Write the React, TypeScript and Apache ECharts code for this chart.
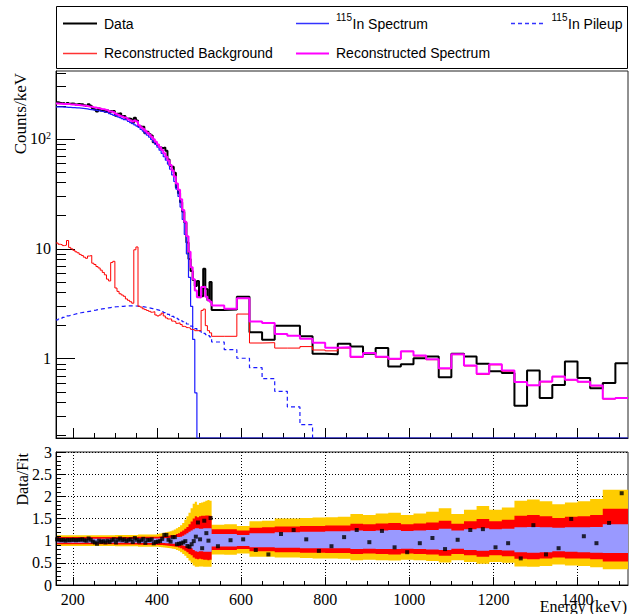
import React, { useEffect, useRef } from "react";
import * as echarts from "echarts";

// ---------- binning (keV) ----------
const binEdges = [
  160, 165, 170, 175, 180, 185, 190, 195, 200, 205, 210, 215, 220, 225, 230, 235, 240, 245, 250, 255,
  260, 265, 270, 275, 280, 285, 290, 295, 300, 305, 310, 315, 320, 325, 330, 335, 340, 345, 350, 355,
  360, 365, 370, 375, 380, 385, 390, 395, 400, 405, 410, 415, 420, 425, 430, 435, 440, 445, 450, 455,
  460, 465, 470, 475, 480, 485, 490, 495, 500, 505, 510, 515, 520, 525, 530,
  560, 590, 620, 650, 680, 710, 740, 770, 800, 830, 860, 890, 920, 950, 980, 1010, 1040, 1070, 1100,
  1130, 1160, 1190, 1220, 1250, 1280, 1310, 1340, 1370, 1400, 1430, 1460, 1490, 1520,
];

// ---------- top panel: counts/keV per bin ----------
const dataCounts = [
  216, 213.5, 211.3, 212.3, 208.2, 212.6, 208.9, 209.6, 209.3, 206,
  207.9, 206.6, 207.3, 202.1, 198.9, 207.2, 200.3, 190.3, 185.3, 177.4,
  189.5, 181.6, 184.1, 176.4, 181.2, 172.7, 179.2, 179.9, 162.6, 169.4,
  171, 161.4, 161.4, 153, 153.4, 151.7, 139.9, 155.6, 147.3, 130.3,
  129.2, 128.8, 112.8, 116, 110.7, 107.6, 93.5, 91.5, 87.4, 83.4,
  82.5, 83.7, 77.9, 65.1, 56.6, 55.7, 49.2, 36.2, 32, 26.6,
  21.7, 17.4, 11.4, 8.1, 6.3, 5.2, 4.6, 5.1, 3.7, 3.7,
  6.6, 4.3, 3.4, 5.0,
  2.77, 2.8, 3.66, 1.74, 1.49, 2.0, 2.0, 1.6, 1.11, 1.10,
  1.37, 1.29, 1.11, 1.25, 0.85, 0.89, 1.01, 1.05, 0.68, 1.11,
  1.05, 0.90, 0.77, 0.74, 0.374, 0.78, 0.44, 0.576, 0.945, 0.667,
  0.54, 0.60, 0.91,
];

const reconSpectrum = [
  209.6, 209.3, 209.2, 208.1, 208.2, 208.4, 206.8, 205.5, 205.2, 204.0,
  203.8, 202.5, 201.3, 200.1, 198.9, 197.3, 196.4, 194.2, 193.0, 190.7,
  189.5, 187.2, 186.0, 183.7, 181.2, 178.0, 177.4, 174.7, 169.4, 166.1,
  162.9, 159.8, 156.7, 154.5, 150.4, 147.3, 144.2, 146.8, 144.4, 133.0,
  127.9, 123.8, 118.7, 113.7, 109.6, 104.5, 99.5, 94.3, 89.2, 84.2,
  79.3, 74.1, 68.9, 63.8, 57.8, 51.6, 45.6, 39.4, 34.4, 28.3,
  22.6, 17.6, 13.0, 9.4, 6.8, 5.3, 4.17, 3.63, 3.6, 4.5,
  4.53, 3.66, 3.42, 3.3,
  3.05, 2.85, 3.56, 2.18, 2.11, 1.68, 1.62, 1.52, 1.40, 1.26,
  1.27, 1.04, 1.13, 1.04, 1.0, 1.17, 1.07, 0.99, 0.82, 1.10,
  0.87, 0.73, 0.89, 0.78, 0.614, 0.573, 0.62, 0.69, 0.645, 0.618,
  0.57, 0.433, 0.44,
];

const in115Spectrum = [
  196, 196, 196, 195, 195, 194, 194, 193, 193, 192,
  192, 191, 190, 189, 188, 186, 185, 184, 183, 181,
  180, 178, 177, 175, 173, 170, 167, 164, 162, 159,
  156, 153, 150, 148, 144, 141, 138, 134, 131, 127,
  122, 118, 113, 108, 104, 99, 94, 89, 84, 79,
  74, 69, 64, 59, 53, 47, 41, 35, 30, 24,
  18.5, 13.5, 9.0, 5.5, 3.0, 1.5, 0.49, 0, 0, 0,
  0, 0, 0, 0,
  0, 0, 0, 0, 0, 0, 0, 0, 0, 0,
  0, 0, 0, 0, 0, 0, 0, 0, 0, 0,
  0, 0, 0, 0, 0, 0, 0, 0, 0, 0,
  0, 0, 0,
];

const reconBackground = [
  11.3, 11.0, 10.9, 10.7, 10.8, 11.9, 10.3, 10.0, 9.7, 9.4,
  9.2, 8.9, 8.7, 8.4, 8.2, 8.6, 8.7, 7.4, 7.2, 6.9,
  6.7, 6.4, 6.1, 5.8, 5.3, 5.1, 7.5, 7.7, 4.4, 4.1,
  3.9, 3.8, 3.7, 3.5, 3.4, 3.3, 3.2, 9.8, 10.4, 3.0,
  2.95, 2.85, 2.8, 2.75, 2.7, 2.65, 2.68, 2.5, 2.45, 2.5,
  2.6, 2.45, 2.35, 2.3, 2.3, 2.2, 2.18, 2.1, 2.12, 2.05,
  1.97, 1.95, 1.92, 1.9, 1.85, 1.83, 1.8, 1.8, 1.8, 2.75,
  2.83, 2.0, 1.8, 1.72,
  1.6, 1.6, 2.55, 1.39, 1.40, 1.25, 1.25, 1.29, 1.20, 1.18,
  1.25, 1.03, 1.12, 1.03, 0.99, 1.16, 1.06, 0.98, 0.81, 1.09,
  0.86, 0.72, 0.88, 0.77, 0.61, 0.57, 0.615, 0.685, 0.64, 0.615,
  0.567, 0.43, 0.437,
];

const in115Pileup = [
  2.26, 2.30, 2.34, 2.38, 2.41, 2.45, 2.48, 2.51, 2.54, 2.57,
  2.60, 2.62, 2.64, 2.66, 2.68, 2.70, 2.72, 2.75, 2.77, 2.80,
  2.82, 2.84, 2.86, 2.88, 2.90, 2.92, 2.94, 2.96, 2.97, 2.98,
  2.99, 3.00, 3.01, 3.02, 3.03, 3.03, 3.03, 3.02, 3.01, 3.00,
  2.98, 2.96, 2.94, 2.92, 2.89, 2.86, 2.83, 2.80, 2.77, 2.73,
  2.68, 2.63, 2.58, 2.53, 2.48, 2.43, 2.38, 2.33, 2.27, 2.22,
  2.17, 2.12, 2.07, 2.03, 1.98, 1.93, 1.88, 1.83, 1.79, 1.74,
  1.70, 1.66, 1.62, 1.58,
  1.42, 1.21, 1.01, 0.83, 0.658, 0.505, 0.364, 0.251, 0.16, 0.09,
];

// ---------- bottom panel: Data/Fit ----------
const ratioValues = [
  1.03, 1.02, 1.01, 1.02, 1.00, 1.02, 1.01, 1.02, 1.02, 1.01,
  1.02, 1.02, 1.03, 1.01, 1.00, 1.05, 1.02, 0.98, 0.96, 0.93,
  1.00, 0.97, 0.99, 0.96, 1.00, 0.97, 1.01, 1.03, 0.96, 1.02,
  1.05, 1.01, 1.03, 0.99, 1.02, 1.03, 0.97, 1.06, 1.02, 0.98,
  1.01, 1.04, 0.95, 1.02, 1.01, 1.03, 0.94, 0.97, 0.98, 0.99,
  1.04, 1.13, 1.13, 1.02, 0.98, 1.08, 1.08, 0.92, 0.93, 0.94,
  0.96, 0.99, 0.88, 0.86, 0.92, 0.99, 1.09, 1.41, 1.03, 0.83,
  1.45, 1.17, 1.00, 1.51,
  0.875, 1.01, 1.03, 0.79, 0.69, 1.15, 1.24, 1.03, 0.77, 0.875,
  1.08, 1.24, 0.966, 1.22, 0.85, 0.74, 0.943, 1.06, 0.81, 1.02,
  1.24, 1.26, 0.85, 0.943, 0.60, 1.35, 0.69, 0.83, 1.49, 1.10,
  0.943, 1.40, 2.07,
];

const bandBlueHi = [
  1.045, 1.045, 1.045, 1.045, 1.045, 1.045, 1.045, 1.045, 1.045, 1.045,
  1.045, 1.045, 1.045, 1.045, 1.045, 1.045, 1.045, 1.045, 1.045, 1.045,
  1.045, 1.045, 1.045, 1.045, 1.045, 1.045, 1.045, 1.045, 1.045, 1.045,
  1.045, 1.045, 1.045, 1.045, 1.045, 1.045, 1.045, 1.045, 1.045, 1.05,
  1.05, 1.05, 1.05, 1.05, 1.05, 1.05, 1.05, 1.05, 1.05, 1.05,
  1.055, 1.055, 1.06, 1.06, 1.065, 1.07, 1.07, 1.08, 1.085, 1.09,
  1.11, 1.14, 1.17, 1.20, 1.23, 1.26, 1.28, 1.28, 1.27, 1.27,
  1.28, 1.28, 1.28, 1.28,
  1.15, 1.15, 1.13, 1.17, 1.17, 1.19, 1.19, 1.20, 1.20, 1.21,
  1.21, 1.23, 1.22, 1.23, 1.24, 1.22, 1.23, 1.24, 1.27, 1.23,
  1.26, 1.28, 1.26, 1.27, 1.30, 1.31, 1.30, 1.29, 1.30, 1.30,
  1.31, 1.37, 1.37,
];
const bandBlueLo = [
  0.955, 0.955, 0.955, 0.955, 0.955, 0.955, 0.955, 0.955, 0.955, 0.955,
  0.955, 0.955, 0.955, 0.955, 0.955, 0.955, 0.955, 0.955, 0.955, 0.955,
  0.955, 0.955, 0.955, 0.955, 0.955, 0.955, 0.955, 0.955, 0.955, 0.955,
  0.955, 0.955, 0.955, 0.955, 0.955, 0.955, 0.955, 0.955, 0.955, 0.95,
  0.95, 0.95, 0.95, 0.95, 0.95, 0.95, 0.95, 0.95, 0.95, 0.95,
  0.945, 0.945, 0.94, 0.94, 0.935, 0.93, 0.93, 0.92, 0.91, 0.90,
  0.89, 0.88, 0.87, 0.85, 0.83, 0.79, 0.76, 0.75, 0.76, 0.76,
  0.75, 0.75, 0.75, 0.75,
  0.87, 0.87, 0.88, 0.85, 0.85, 0.84, 0.84, 0.83, 0.83, 0.83,
  0.83, 0.81, 0.82, 0.81, 0.81, 0.82, 0.81, 0.80, 0.79, 0.82,
  0.79, 0.77, 0.79, 0.78, 0.74, 0.73, 0.74, 0.76, 0.75, 0.74,
  0.73, 0.72, 0.72,
];
const bandRedHi = [
  1.08, 1.08, 1.08, 1.08, 1.08, 1.08, 1.08, 1.08, 1.08, 1.08,
  1.08, 1.08, 1.08, 1.08, 1.08, 1.08, 1.08, 1.08, 1.08, 1.08,
  1.08, 1.08, 1.08, 1.08, 1.08, 1.08, 1.08, 1.08, 1.085, 1.085,
  1.085, 1.085, 1.085, 1.085, 1.085, 1.085, 1.085, 1.085, 1.085, 1.09,
  1.09, 1.09, 1.09, 1.09, 1.09, 1.09, 1.09, 1.09, 1.09, 1.095,
  1.10, 1.10, 1.105, 1.11, 1.12, 1.125, 1.13, 1.15, 1.17, 1.20,
  1.23, 1.27, 1.31, 1.37, 1.43, 1.50, 1.55, 1.53, 1.55, 1.56,
  1.56, 1.57, 1.57, 1.56,
  1.26, 1.26, 1.23, 1.29, 1.30, 1.32, 1.32, 1.33, 1.33, 1.34,
  1.34, 1.38, 1.37, 1.39, 1.40, 1.37, 1.39, 1.41, 1.45, 1.38,
  1.44, 1.49, 1.44, 1.47, 1.56, 1.58, 1.55, 1.51, 1.54, 1.55,
  1.58, 1.72, 1.72,
];
const bandRedLo = [
  0.92, 0.92, 0.92, 0.92, 0.92, 0.92, 0.92, 0.92, 0.92, 0.92,
  0.92, 0.92, 0.92, 0.92, 0.92, 0.92, 0.92, 0.92, 0.92, 0.92,
  0.92, 0.92, 0.92, 0.92, 0.92, 0.92, 0.92, 0.92, 0.915, 0.915,
  0.915, 0.915, 0.915, 0.915, 0.915, 0.915, 0.915, 0.915, 0.915, 0.91,
  0.91, 0.91, 0.91, 0.91, 0.91, 0.91, 0.91, 0.91, 0.905, 0.90,
  0.90, 0.895, 0.89, 0.885, 0.88, 0.875, 0.87, 0.86, 0.845, 0.83,
  0.80, 0.77, 0.74, 0.70, 0.67, 0.62, 0.59, 0.58, 0.59, 0.58,
  0.57, 0.57, 0.56, 0.57,
  0.79, 0.79, 0.81, 0.76, 0.76, 0.74, 0.74, 0.73, 0.73, 0.72,
  0.72, 0.70, 0.71, 0.70, 0.69, 0.71, 0.70, 0.69, 0.66, 0.70,
  0.67, 0.64, 0.67, 0.65, 0.59, 0.58, 0.60, 0.62, 0.60, 0.60,
  0.58, 0.53, 0.53,
];
const bandYellowHi = [
  1.12, 1.12, 1.12, 1.12, 1.12, 1.12, 1.12, 1.12, 1.12, 1.12,
  1.12, 1.12, 1.12, 1.12, 1.12, 1.12, 1.12, 1.12, 1.12, 1.12,
  1.12, 1.12, 1.12, 1.12, 1.12, 1.12, 1.12, 1.12, 1.13, 1.13,
  1.13, 1.13, 1.13, 1.13, 1.13, 1.13, 1.13, 1.13, 1.13, 1.14,
  1.14, 1.14, 1.14, 1.14, 1.14, 1.14, 1.14, 1.14, 1.15, 1.16,
  1.17, 1.18, 1.19, 1.20, 1.21, 1.23, 1.25, 1.28, 1.31, 1.35,
  1.40, 1.47, 1.55, 1.63, 1.73, 1.83, 1.88, 1.81, 1.85, 1.86,
  1.88, 1.90, 1.92, 1.90,
  1.36, 1.37, 1.33, 1.44, 1.45, 1.50, 1.50, 1.51, 1.52, 1.53,
  1.54, 1.60, 1.58, 1.61, 1.63, 1.58, 1.61, 1.65, 1.73, 1.60,
  1.70, 1.78, 1.70, 1.75, 1.90, 1.93, 1.89, 1.82, 1.86, 1.89,
  1.94, 2.15, 2.15,
];
const bandYellowLo = [
  0.88, 0.88, 0.88, 0.88, 0.88, 0.88, 0.88, 0.88, 0.88, 0.88,
  0.88, 0.88, 0.88, 0.88, 0.88, 0.88, 0.88, 0.88, 0.88, 0.88,
  0.88, 0.88, 0.88, 0.88, 0.88, 0.88, 0.88, 0.88, 0.875, 0.875,
  0.875, 0.875, 0.875, 0.875, 0.875, 0.875, 0.875, 0.875, 0.875, 0.865,
  0.865, 0.865, 0.865, 0.865, 0.865, 0.865, 0.865, 0.865, 0.86, 0.855,
  0.85, 0.845, 0.84, 0.835, 0.83, 0.82, 0.81, 0.79, 0.77, 0.74,
  0.70, 0.66, 0.61, 0.55, 0.50, 0.44, 0.41, 0.41, 0.42, 0.42,
  0.41, 0.41, 0.41, 0.41,
  0.69, 0.68, 0.71, 0.64, 0.64, 0.62, 0.62, 0.61, 0.60, 0.60,
  0.59, 0.56, 0.57, 0.56, 0.55, 0.57, 0.56, 0.54, 0.51, 0.56,
  0.52, 0.48, 0.52, 0.50, 0.42, 0.41, 0.43, 0.46, 0.44, 0.43,
  0.40, 0.355, 0.355,
];

// ---------- axes ----------
const xMajorTicks = [200, 400, 600, 800, 1000, 1200, 1400];
const xMinorTicks = [
  200, 250, 300, 350, 400, 450, 500, 550, 600, 650, 700, 750, 800, 850,
  900, 950, 1000, 1050, 1100, 1150, 1200, 1250, 1300, 1350, 1400, 1450, 1500,
];
const yMajorTicks = [1, 10, 100];
const yMinorTicks = [
  0.2, 0.3, 0.4, 0.5, 0.6, 0.7, 0.8, 0.9, 2, 3, 4, 5, 6, 7, 8, 9,
  20, 30, 40, 50, 60, 70, 80, 90, 200, 300, 400,
];
const X_MIN = 160;
const X_MAX = 1520;
const Y_MIN = 0.19;
const Y_MAX = 415;

const serif = '"Liberation Serif", "Times New Roman", serif';
const sans = '"Liberation Sans", Arial, sans-serif';

function histPoints(values: number[], floor = 0): number[][] {
  const pts: number[][] = [];
  for (let i = 0; i < values.length; i++) {
    const v = Math.max(values[i], floor);
    pts.push([binEdges[i], v], [binEdges[i + 1], v]);
  }
  return pts;
}

function bandSeries(hi: number[], lo: number[], color: string) {
  return {
    type: "custom",
    xAxisIndex: 2,
    yAxisIndex: 2,
    silent: true,
    data: [[800, 1]],
    renderItem: (_params: any, api: any) => {
      const pts: number[][] = [];
      for (let i = 0; i < hi.length; i++) {
        pts.push(api.coord([binEdges[i], hi[i]]), api.coord([binEdges[i + 1], hi[i]]));
      }
      for (let i = lo.length - 1; i >= 0; i--) {
        pts.push(api.coord([binEdges[i + 1], lo[i]]), api.coord([binEdges[i], lo[i]]));
      }
      return { type: "polygon", shape: { points: pts }, style: { fill: color, stroke: null } };
    },
  };
}

function histSeries(values: number[], color: string, width: number, dashed = false, floor = 0) {
  return {
    type: "line",
    xAxisIndex: 0,
    yAxisIndex: 0,
    data: histPoints(values, floor),
    showSymbol: false,
    symbol: "none",
    silent: true,
    clip: true,
    lineStyle: { color, width, type: dashed ? [4, 3] : "solid" },
  };
}

const black = { color: "#000", width: 1 };

function buildOption() {
  const centers = ratioValues.map((r, i) => [(binEdges[i] + binEdges[i + 1]) / 2, r]);
  return {
    animation: false,
    backgroundColor: "#fff",
    grid: [
      { left: 56, top: 71, width: 572, height: 367, show: true, borderColor: "#222", borderWidth: 1 },
      { left: 56, top: 452, width: 572, height: 133, show: true, borderColor: "#222", borderWidth: 1 },
    ],
    xAxis: [
      {
        gridIndex: 0, type: "value", min: X_MIN, max: X_MAX, position: "bottom",
        axisLine: { show: true, onZero: false, lineStyle: black },
        axisTick: { show: true, inside: true, length: 10, customValues: xMajorTicks, lineStyle: black },
        axisLabel: { show: false }, splitLine: { show: false },
      },
      {
        gridIndex: 0, type: "value", min: X_MIN, max: X_MAX, position: "bottom",
        axisLine: { show: false, onZero: false },
        axisTick: { show: true, inside: true, length: 5, customValues: xMinorTicks, lineStyle: black },
        axisLabel: { show: false }, splitLine: { show: false },
      },
      {
        gridIndex: 1, type: "value", min: X_MIN, max: X_MAX, position: "bottom",
        axisLine: { show: false, onZero: false },
        axisTick: { show: false, customValues: xMajorTicks },
        axisLabel: {
          show: true, customValues: xMajorTicks, fontFamily: serif, fontSize: 16, color: "#000", margin: 6,
          formatter: (v: number) => String(v),
        },
        splitLine: { show: true, lineStyle: { color: "#000", width: 1, type: [1, 2] } },
      },
      {
        gridIndex: 1, type: "value", min: X_MIN, max: X_MAX, position: "bottom", z: 5,
        axisLine: { show: true, onZero: false, lineStyle: black },
        axisTick: { show: true, inside: true, length: 8, customValues: xMajorTicks, lineStyle: black },
        axisLabel: { show: false }, splitLine: { show: false },
      },
      {
        gridIndex: 1, type: "value", min: X_MIN, max: X_MAX, position: "bottom", z: 5,
        axisLine: { show: false, onZero: false },
        axisTick: { show: true, inside: true, length: 4, customValues: xMinorTicks, lineStyle: black },
        axisLabel: { show: false }, splitLine: { show: false },
      },
    ],
    yAxis: [
      {
        gridIndex: 0, type: "log", logBase: 10, min: Y_MIN, max: Y_MAX, position: "left",
        axisLine: { show: true, onZero: false, lineStyle: black },
        axisTick: { show: true, inside: true, length: 19, customValues: yMajorTicks, lineStyle: black },
        axisLabel: {
          show: true, customValues: yMajorTicks, margin: 5,
          formatter: (v: number) => (v >= 100 ? "{m|10}{s|2}" : v >= 10 ? "{m|10}" : "{m|1}"),
          rich: {
            m: { fontFamily: serif, fontSize: 16, color: "#000", verticalAlign: "bottom" },
            s: { fontFamily: serif, fontSize: 10, color: "#000", verticalAlign: "top" },
          },
        },
        splitLine: { show: false }, minorSplitLine: { show: false },
      },
      {
        gridIndex: 0, type: "log", logBase: 10, min: Y_MIN, max: Y_MAX, position: "left",
        axisLine: { show: false, onZero: false },
        axisTick: { show: true, inside: true, length: 10, customValues: yMinorTicks, lineStyle: black },
        axisLabel: { show: false }, splitLine: { show: false },
      },
      {
        gridIndex: 1, type: "value", min: 0, max: 3, interval: 0.5, position: "left",
        axisLine: { show: false, onZero: false },
        axisTick: { show: false },
        axisLabel: { show: true, fontFamily: serif, fontSize: 16, color: "#000", margin: 4 },
        splitLine: { show: true, lineStyle: { color: "#000", width: 1, type: [1, 2] } },
      },
      {
        gridIndex: 1, type: "value", min: 0, max: 3, interval: 0.5, position: "left", z: 5,
        axisLine: { show: true, onZero: false, lineStyle: black },
        axisTick: { show: true, inside: true, length: 10, lineStyle: black },
        minorTick: { show: true, splitNumber: 5, length: 5, lineStyle: black },
        axisLabel: { show: false }, splitLine: { show: false },
      },
    ],
    series: [
      histSeries(dataCounts, "#000000", 2),
      histSeries(in115Spectrum, "#1a1aff", 1.2, false, Y_MIN),
      histSeries(in115Pileup, "#1a1aff", 1.2, true),
      histSeries(reconBackground, "#ff0000", 1),
      histSeries(reconSpectrum, "#ff00ff", 2),
      bandSeries(bandYellowHi, bandYellowLo, "#ffcc00"),
      bandSeries(bandRedHi, bandRedLo, "#ff0000"),
      bandSeries(bandBlueHi, bandBlueLo, "#9999ff"),
      {
        type: "scatter", xAxisIndex: 2, yAxisIndex: 2, data: centers, silent: true,
        symbol: "rect", symbolSize: 4, itemStyle: { color: "#000" }, z: 6,
      },
    ],
    graphic: [
      { type: "rect", shape: { x: 56.5, y: 6.5, width: 571, height: 62 }, style: { fill: "#fff", stroke: "#000", lineWidth: 1 } },
      { type: "line", shape: { x1: 63, y1: 23.5, x2: 97, y2: 23.5 }, style: { stroke: "#000", lineWidth: 2 } },
      { type: "text", x: 104, y: 24, style: { text: "Data", fontSize: 14, fontFamily: sans, fill: "#000", align: "left", verticalAlign: "middle" } },
      { type: "line", shape: { x1: 296, y1: 23.5, x2: 329, y2: 23.5 }, style: { stroke: "#3333ff", lineWidth: 1.5 } },
      { type: "text", x: 336, y: 17, style: { text: "115", fontSize: 10, fontFamily: sans, fill: "#000", align: "left", verticalAlign: "middle" } },
      { type: "text", x: 352.5, y: 24, style: { text: "In Spectrum", fontSize: 14, fontFamily: sans, fill: "#000", align: "left", verticalAlign: "middle" } },
      { type: "line", shape: { x1: 511, y1: 23.5, x2: 544, y2: 23.5 }, style: { stroke: "#3333ff", lineWidth: 1.5, lineDash: [4, 3] } },
      { type: "text", x: 551.5, y: 17, style: { text: "115", fontSize: 10, fontFamily: sans, fill: "#000", align: "left", verticalAlign: "middle" } },
      { type: "text", x: 568, y: 24, style: { text: "In Pileup", fontSize: 14, fontFamily: sans, fill: "#000", align: "left", verticalAlign: "middle" } },
      { type: "line", shape: { x1: 63, y1: 53.5, x2: 97, y2: 53.5 }, style: { stroke: "#ff3333", lineWidth: 1.5 } },
      { type: "text", x: 104, y: 53, style: { text: "Reconstructed Background", fontSize: 14, fontFamily: sans, fill: "#000", align: "left", verticalAlign: "middle" } },
      { type: "line", shape: { x1: 296, y1: 53.5, x2: 329, y2: 53.5 }, style: { stroke: "#ff00ff", lineWidth: 2 } },
      { type: "text", x: 336, y: 53, style: { text: "Reconstructed Spectrum", fontSize: 14, fontFamily: sans, fill: "#000", align: "left", verticalAlign: "middle" } },
      { type: "text", x: 20, y: 73, rotation: Math.PI / 2, style: { text: "Counts/keV", fontSize: 17, fontFamily: serif, fill: "#000", align: "right", verticalAlign: "middle" } },
      { type: "text", x: 22, y: 453, rotation: Math.PI / 2, style: { text: "Data/Fit", fontSize: 16, fontFamily: serif, fill: "#000", align: "right", verticalAlign: "middle" } },
      { type: "text", x: 627, y: 606, style: { text: "Energy (keV)", fontSize: 16, fontFamily: serif, fill: "#000", align: "right", verticalAlign: "middle" } },
    ],
  };
}

export default function App() {
  const ref = useRef<HTMLDivElement>(null);
  useEffect(() => {
    document.body.style.margin = "0";
    const chart = echarts.init(ref.current as HTMLDivElement, null, { renderer: "svg" });
    chart.setOption(buildOption() as any);
    return () => chart.dispose();
  }, []);
  return <div ref={ref} style={{ position: "absolute", left: 0, top: 0, width: 636, height: 614 }} />;
}
